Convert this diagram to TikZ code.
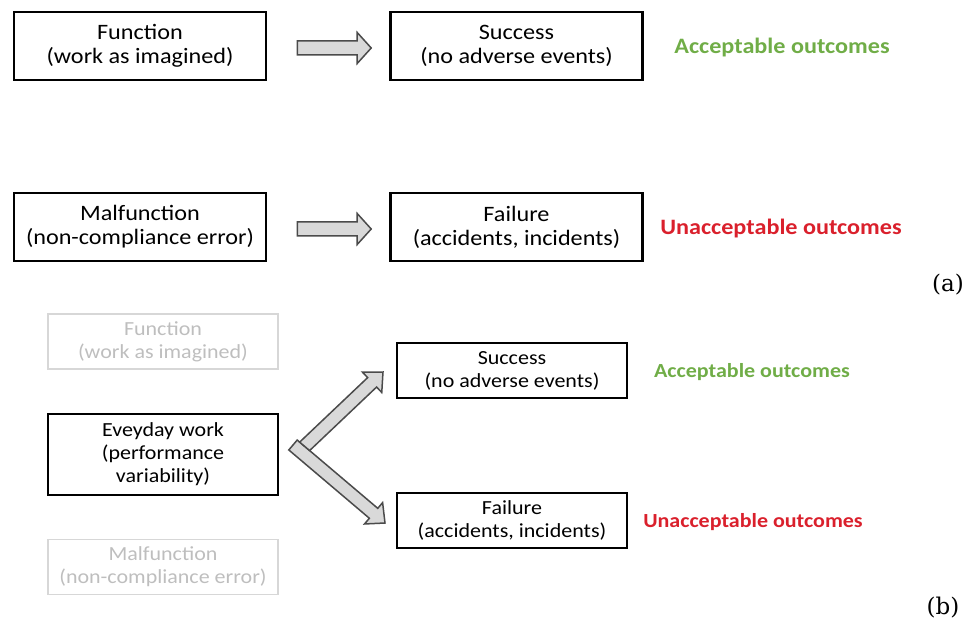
\documentclass[tikz,border=0pt]{standalone}
\usepackage{fontspec}
\setmainfont{Carlito}[FakeStretch=1.1]
\newfontfamily\tagfont{DejaVu Serif}
\usetikzlibrary{calc}
\definecolor{okgreen}{RGB}{112,173,71}
\definecolor{badred}{RGB}{218,32,44}
\definecolor{arrowgray}{RGB}{217,217,217}
\definecolor{arrowedge}{RGB}{75,75,75}
\definecolor{ghost}{RGB}{215,215,215}
\definecolor{ghosttext}{RGB}{190,190,190}

% horizontal block arrow from tail coordinate #1 to tip coordinate #2
\newcommand\flatarrow[2]{%
  \draw[blockarrow] ($(#1)+(0,-7)$) -- ($(#2)+(-14,-7)$) -- ($(#2)+(-14,-15.5)$)
    -- (#2) -- ($(#2)+(-14,15.5)$) -- ($(#2)+(-14,7)$) -- ($(#1)+(0,7)$) -- cycle;}

\begin{document}
\begin{tikzpicture}[x=1pt,y=-1pt,
  bigbox/.style={draw=black, line width=2.6pt, minimum width=252pt, minimum height=68pt,
    align=center, inner sep=0pt, font=\fontsize{22}{24}\selectfont, text=black},
  smallbox/.style={draw=black, line width=2.4pt, minimum width=230pt, minimum height=55pt,
    align=center, inner sep=0pt, font=\fontsize{20}{23}\selectfont, text=black},
  ghostbox/.style={smallbox, draw=ghost, line width=1.5pt, text=ghosttext},
  verdict/.style={font=\bfseries\fontsize{22}{24}\selectfont},
  verdictsm/.style={font=\bfseries\fontsize{20}{22}\selectfont},
  blockarrow/.style={fill=arrowgray, draw=arrowedge, line width=1.5pt, line join=miter},
  panel/.style={font=\tagfont\fontsize{23}{26}\selectfont}]

\useasboundingbox (0,0) rectangle (972,628);

% ---------- panel (a): classic view ----------
\node[bigbox] (fA)  at (140,46)    {Function\\(work as imagined)};
\node[bigbox] (sA)  at (516.5,46)  {Success\\(no adverse events)};
\node[verdict, text=okgreen] (accA) at (782,48) {Acceptable outcomes};

\node[bigbox] (mA)  at (140,227)   {Malfunction\\(non-compliance error)};
\node[bigbox] (flA) at (516.5,227) {Failure\\(accidents, incidents)};
\node[verdict, text=badred] (unA) at (781,229) {Unacceptable outcomes};

\coordinate (a1s) at ($(fA.east)+(30,2)$);
\coordinate (a1e) at ($(sA.west)+(-18,2)$);
\flatarrow{a1s}{a1e}
\coordinate (a2s) at ($(mA.east)+(30,2)$);
\coordinate (a2e) at ($(flA.west)+(-18,2)$);
\flatarrow{a2s}{a2e}

\node[panel] (tagA) at (948,285) {(a)};

% ---------- panel (b): everyday work ----------
\node[ghostbox] (fB) at (163,341.5) {Function\\(work as imagined)};
\node[smallbox, minimum height=81pt] (eB) at (163,454.5) {Eveyday work\\(performance\\variability)};
\node[ghostbox] (mB) at (163,567) {Malfunction\\(non-compliance error)};

\node[smallbox, minimum width=230pt] (sB)  at (512,370.5) {Success\\(no adverse events)};
\node[smallbox, minimum width=230pt] (flB) at (512,520.5) {Failure\\(accidents, incidents)};
\node[verdictsm, text=okgreen] (accB) at (752,372) {Acceptable outcomes};
\node[verdictsm, text=badred]  (unB)  at (753,522) {Unacceptable outcomes};

% forked block arrow: lower branch first, upper branch laid over its root
\draw[blockarrow] (297.20,440.04) -- (377.76,508.34) -- (382.61,502.62) -- (385,523)
  -- (364.51,523.98) -- (369.36,518.26) -- (288.80,449.96) -- cycle;
\draw[blockarrow] (299.65,442.12) -- (367.65,377.60) -- (362.48,372.16) -- (383,372)
  -- (381.76,392.48) -- (376.59,387.04) -- (309.62,450.57) -- cycle;

\node[panel] (tagB) at (943,608) {(b)};
\end{tikzpicture}
\end{document}
